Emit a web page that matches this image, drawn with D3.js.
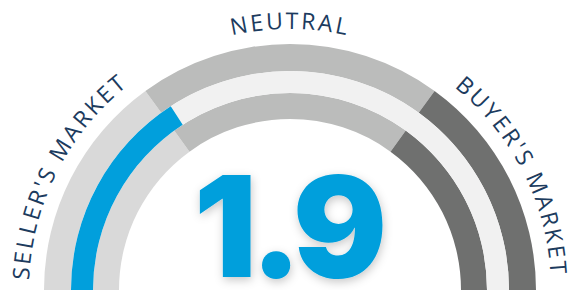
<!DOCTYPE html>
<html>
<head>
<meta charset="utf-8">
<script src="https://cdn.jsdelivr.net/npm/d3@7"></script>
<style>
  html, body { margin: 0; padding: 0; background: #ffffff; }
  svg { display: block; }
</style>
</head>
<body>
<svg id="chart" width="574" height="290"></svg>
<script>
// ---- data ----
const valueDomain = [0, 6];
const zoneNames = ["SELLER'S MARKET", "NEUTRAL", "BUYER'S MARKET"];
const zoneStarts = [0, 1.8, 4.2];
const zoneEnds = [1.8, 4.2, 6];
const currentValue = 1.9;
const valueLabel = "1.9";

// ---- styling ----
const zoneColors = ["#d9d9d9", "#bbbcbb", "#6f706f"];
const trackColor = "#f1f1f1";
const valueColor = "#019fdc";
const labelColor = "#1c3b5e";

const W = 574, H = 290;
const cx = 290, cy = 290;
const rings = {
  outer: [219, 246],
  middle: [197, 219],
  inner: [171, 197]
};
const labelRadius = 261;

const svg = d3.select("#chart");

const defs = svg.append("defs");
const f = defs.append("filter").attr("id", "shadow")
  .attr("x", "-20%").attr("y", "-20%").attr("width", "140%").attr("height", "140%");
f.append("feDropShadow").attr("dx", 1).attr("dy", 3).attr("stdDeviation", 5)
  .attr("flood-color", "#000").attr("flood-opacity", 0.22);

const angle = d3.scaleLinear().domain(valueDomain).range([-Math.PI / 2, Math.PI / 2]);

const g = svg.append("g").attr("transform", `translate(${cx},${cy})`);

const zones = zoneNames.map((name, i) => ({ name, start: zoneStarts[i], end: zoneEnds[i], color: zoneColors[i] }));

function ringArc(radii) {
  return d3.arc()
    .innerRadius(radii[0])
    .outerRadius(radii[1])
    .startAngle(d => angle(d.start))
    .endAngle(d => angle(d.end));
}

// outer and inner zone rings
[rings.outer, rings.inner].forEach(radii => {
  g.append("g").selectAll("path")
    .data(zones)
    .join("path")
    .attr("d", ringArc(radii))
    .attr("fill", d => d.color);
});

// middle track + value
const midArc = ringArc(rings.middle);
g.append("path")
  .datum({ start: valueDomain[0], end: valueDomain[1] })
  .attr("d", midArc)
  .attr("fill", trackColor);
g.append("path")
  .datum({ start: valueDomain[0], end: currentValue })
  .attr("d", midArc)
  .attr("fill", valueColor);

// curved labels
const ext = 0.15 * Math.PI;
const p = d3.path();
p.arc(0, 0, labelRadius, Math.PI - ext, 2 * Math.PI + ext);
defs.append("path").attr("id", "labelPath").attr("d", p.toString())
  .attr("transform", `translate(${cx},${cy})`);

svg.append("g").selectAll("text")
  .data(zones)
  .join("text")
  .attr("font-family", "'Open Sans', 'Noto Sans', sans-serif")
  .attr("font-size", 23)
  .attr("letter-spacing", 2.5)
  .attr("fill", labelColor)
  .append("textPath")
  .attr("href", "#labelPath")
  .attr("text-anchor", "middle")
  .attr("startOffset", d => {
    const a = angle((d.start + d.end) / 2) + Math.PI / 2 + ext;
    return labelRadius * a;
  })
  .text(d => d.name);

// big value
svg.append("text")
  .attr("x", cx - 3)
  .attr("y", 277)
  .attr("text-anchor", "middle")
  .attr("font-family", "Inter, Lato, 'Open Sans', sans-serif")
  .attr("font-weight", 900)
  .attr("font-size", 140)
  .attr("letter-spacing", -7)
  .attr("fill", valueColor)
  .attr("filter", "url(#shadow)")
  .text(valueLabel);
</script>
</body>
</html>
